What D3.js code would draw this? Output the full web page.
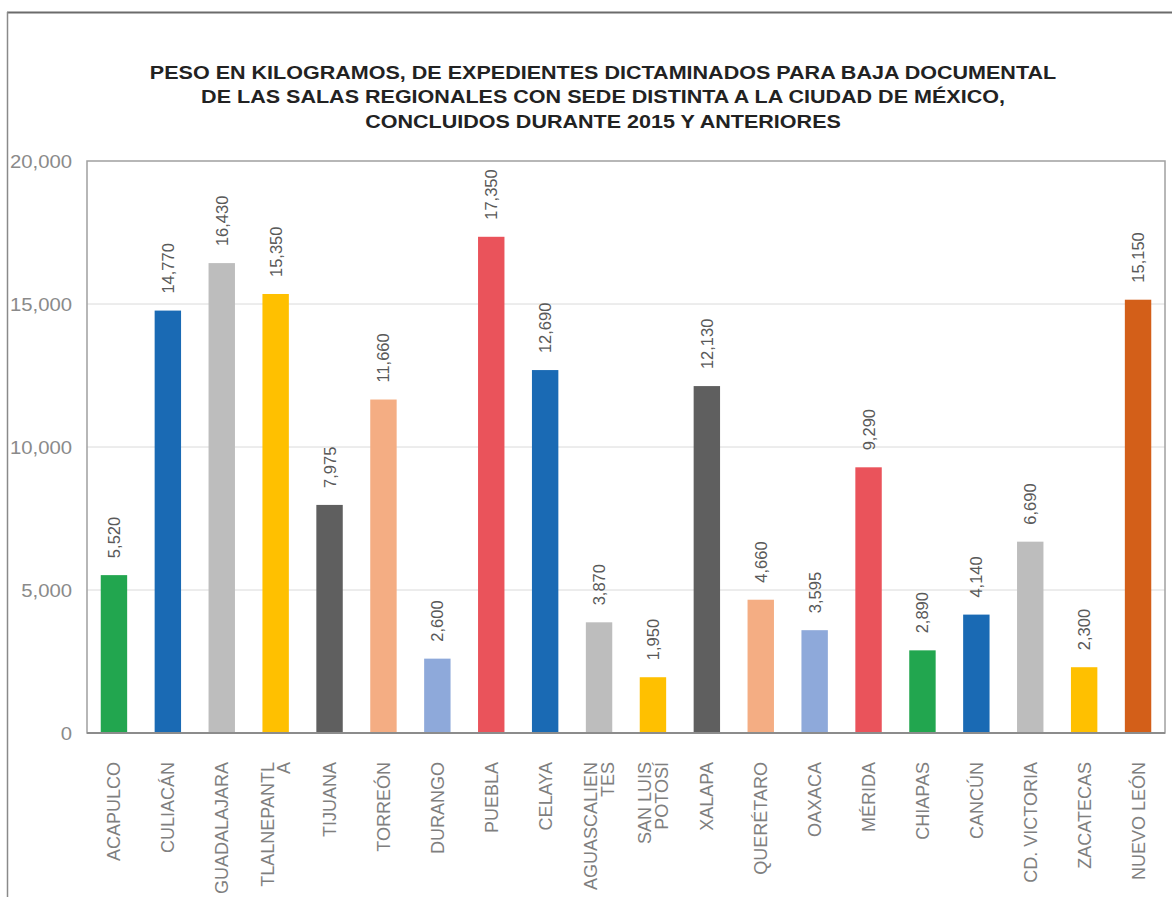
<!DOCTYPE html>
<html>
<head>
<meta charset="utf-8">
<script src="https://cdn.jsdelivr.net/npm/d3@7"></script>
<style>
  html, body { margin: 0; padding: 0; background: #fff; }
  svg { display: block; font-family: "Liberation Sans", Arial, sans-serif; }
</style>
</head>
<body>
<svg id="chart" width="1172" height="897"></svg>
<script>
const titleLines = [
  "PESO EN KILOGRAMOS, DE EXPEDIENTES DICTAMINADOS PARA BAJA DOCUMENTAL",
  "DE LAS SALAS REGIONALES CON SEDE DISTINTA A LA CIUDAD DE MÉXICO,",
  "CONCLUIDOS DURANTE 2015 Y ANTERIORES"
];
const categories = [
  ["ACAPULCO"], ["CULIACÁN"], ["GUADALAJARA"], ["TLALNEPANTL", "A"], ["TIJUANA"],
  ["TORREÓN"], ["DURANGO"], ["PUEBLA"], ["CELAYA"], ["AGUASCALIEN", "TES"],
  ["SAN LUIS", "POTOSÍ"], ["XALAPA"], ["QUERÉTARO"], ["OAXACA"], ["MÉRIDA"],
  ["CHIAPAS"], ["CANCÚN"], ["CD. VICTORIA"], ["ZACATECAS"], ["NUEVO LEÓN"]
];
const values = [5520, 14770, 16430, 15350, 7975, 11660, 2600, 17350, 12690, 3870,
  1950, 12130, 4660, 3595, 9290, 2890, 4140, 6690, 2300, 15150];
const colors = ["#22A64F", "#1A6AB4", "#BDBDBD", "#FFC000", "#5F5F5F", "#F4AD83",
  "#8EA9DA", "#EA535B", "#1A6AB4", "#BDBDBD", "#FFC000", "#5F5F5F", "#F4AD83",
  "#8EA9DA", "#EA535B", "#22A64F", "#1A6AB4", "#BDBDBD", "#FFC000", "#D35F19"];
const yTicks = [0, 5000, 10000, 15000, 20000];

const svg = d3.select("#chart");
const pLeft = 87, pRight = 1165, pTop = 161, pBottom = 733;

// outer frame
svg.append("line").attr("x1", 7).attr("x2", 1172).attr("y1", 12.5).attr("y2", 12.5)
  .attr("stroke", "#6b6b6b").attr("stroke-width", 2);
svg.append("line").attr("x1", 7.5).attr("x2", 7.5).attr("y1", 12).attr("y2", 897)
  .attr("stroke", "#8a8a8a").attr("stroke-width", 1.5);

// title
const title = svg.append("g").attr("transform", "translate(603,0) scale(1.21,1)");
title.selectAll("text").data(titleLines).join("text")
  .attr("x", 0).attr("y", (d, i) => 79 + i * 24.5)
  .attr("text-anchor", "middle")
  .attr("font-size", 17.8).attr("font-weight", "bold").attr("fill", "#222")
  .text(d => d);

const x = d3.scaleBand().domain(d3.range(categories.length)).range([pLeft, pRight]).paddingInner(0.51).paddingOuter(0.255);
const y = d3.scaleLinear().domain([0, 20000]).range([pBottom, pTop]);

// gridlines
svg.append("g").selectAll("line").data(yTicks.filter(t => t > 0 && t < 20000)).join("line")
  .attr("x1", pLeft).attr("x2", pRight).attr("y1", d => y(d)).attr("y2", d => y(d))
  .attr("stroke", "#dadada").attr("stroke-width", 1);

// y axis labels
const yAxis = d3.axisLeft(y).tickValues(yTicks).tickSize(0).tickPadding(0).tickFormat(d3.format(","));
const ya = svg.append("g").attr("transform", `translate(${pLeft - 15},0)`).call(yAxis);
ya.select(".domain").remove();
ya.selectAll("text").attr("font-size", 17.5).attr("fill", "#8a8a8a")
  .attr("font-family", "'Liberation Sans', Arial, sans-serif").attr("dy", "0.36em")
  .attr("transform", "scale(1.16,1)");

// bars
svg.append("g").selectAll("rect").data(values).join("rect")
  .attr("x", (d, i) => x(i)).attr("width", x.bandwidth())
  .attr("y", d => y(d)).attr("height", d => pBottom - y(d))
  .attr("fill", (d, i) => colors[i]);

// plot border
svg.append("rect").attr("x", pLeft).attr("y", pTop).attr("width", pRight - pLeft).attr("height", pBottom - pTop)
  .attr("fill", "none").attr("stroke", "#a0a0a0").attr("stroke-width", 1.5);
svg.append("line").attr("x1", pLeft).attr("x2", pRight).attr("y1", pBottom).attr("y2", pBottom)
  .attr("stroke", "#8c8c8c").attr("stroke-width", 2);

// value labels
svg.append("g").selectAll("text").data(values).join("text")
  .attr("transform", (d, i) => `translate(${x(i) + x.bandwidth() / 2},${y(d) - 17}) rotate(-90)`)
  .attr("text-anchor", "start").attr("dy", "0.36em")
  .attr("font-size", 16.5).attr("fill", "#595959")
  .text(d => d3.format(",")(d));

// x labels
const xAxis = d3.axisBottom(x).tickSize(0).tickFormat("");
const xa = svg.append("g").attr("transform", `translate(0,${pBottom})`).call(xAxis);
xa.select(".domain").remove();
const lh = 16.5;
const lab = svg.append("g").selectAll("text").data(categories).join("text")
  .attr("transform", (d, i) => `translate(${x(i) + x.bandwidth() / 2},762) rotate(-90)`)
  .attr("text-anchor", "end").attr("font-size", 18).attr("fill", "#7f7f7f");
lab.each(function(d) {
  const t = d3.select(this);
  d.forEach((line, j) => {
    t.append("tspan").attr("x", 0)
      .attr("dy", j === 0 ? (0.36 * 18 - (d.length - 1) * lh / 2) : lh)
      .text(line);
  });
});
</script>
</body>
</html>
